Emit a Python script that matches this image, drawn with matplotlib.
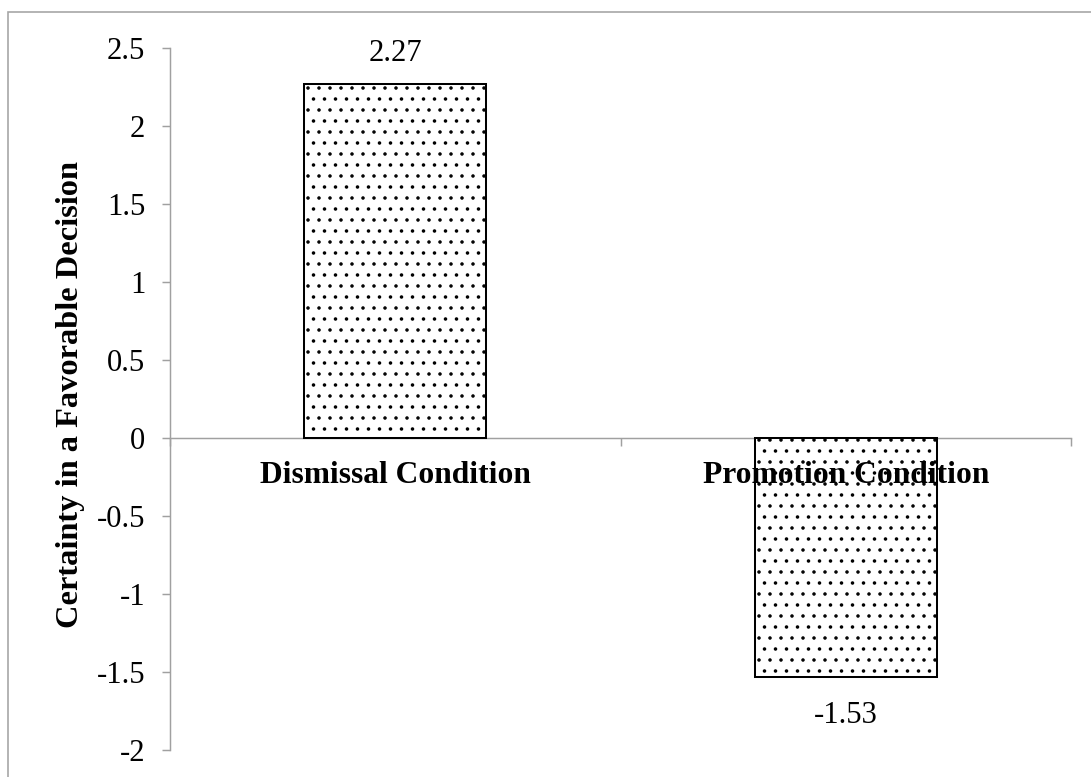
import matplotlib
matplotlib.use("Agg")
import matplotlib.pyplot as plt
from matplotlib.patches import Rectangle
from matplotlib.ticker import FuncFormatter

categories = ["Dismissal Condition", "Promotion Condition"]
values = [2.27, -1.53]
value_labels = ["2.27", "-1.53"]
yticks = [-2, -1.5, -1, -0.5, 0, 0.5, 1, 1.5, 2, 2.5]

DPI = 132
plt.rcParams['font.family'] = ['Liberation Serif', 'DejaVu Serif']
plt.rcParams['axes.unicode_minus'] = False
plt.rcParams['hatch.linewidth'] = 0.7
plt.rcParams['hatch.color'] = 'black'

fig = plt.figure(figsize=(1091 / DPI, 777 / DPI), dpi=DPI)
ax = fig.add_axes([170 / 1091, 1 - 750 / 777, (1071 - 170) / 1091, (750 - 48) / 777])

gray = '#a0a0a0'
x = list(range(len(categories)))
bars = ax.bar(x, values, width=0.405, color='white', edgecolor='black',
              linewidth=1.1, hatch='..', zorder=3)

for xi, v, lab in zip(x, values, value_labels):
    off = 16.5 if v >= 0 else -21
    ax.annotate(lab, (xi, v), xytext=(0, off), textcoords='offset points',
                ha='center', va='center', fontsize=16.7)

for xi, cat in zip(x, categories):
    ax.annotate(cat, (xi, 0), xytext=(0, -20.5), textcoords='offset points',
                ha='center', va='center', fontsize=17.2, fontweight='bold',
                zorder=6)

ax.set_xlim(-0.5, 1.5)
ax.set_ylim(-2, 2.5)
ax.set_yticks(yticks)
ax.yaxis.set_major_formatter(FuncFormatter(lambda v, p: '%g' % v))

ax.set_xticks([-0.5, 0.5, 1.5])
ax.set_xticklabels([])
ax.tick_params(axis='x', length=4.4, width=0.8, color=gray, direction='out')
ax.tick_params(axis='y', length=4.4, width=0.8, color=gray, pad=9, labelsize=16.7)

for s in ['top', 'right']:
    ax.spines[s].set_visible(False)
ax.spines['bottom'].set_position(('data', 0))
for s in ['left', 'bottom']:
    ax.spines[s].set_color(gray)
    ax.spines[s].set_linewidth(0.8)

fig.text(71 / 1091, 1 - 395 / 777, "Certainty in a Favorable Decision", rotation=90,
         ha='center', va='center', fontsize=17.7, fontweight='bold')

fig.patches.append(Rectangle((8 / 1091, -0.05), 1.2, 1 - 12 / 777 + 0.05,
                             transform=fig.transFigure, fill=False,
                             edgecolor='#a6a6a6', linewidth=0.9))

fig.savefig("out.png", dpi=DPI, facecolor='white')
